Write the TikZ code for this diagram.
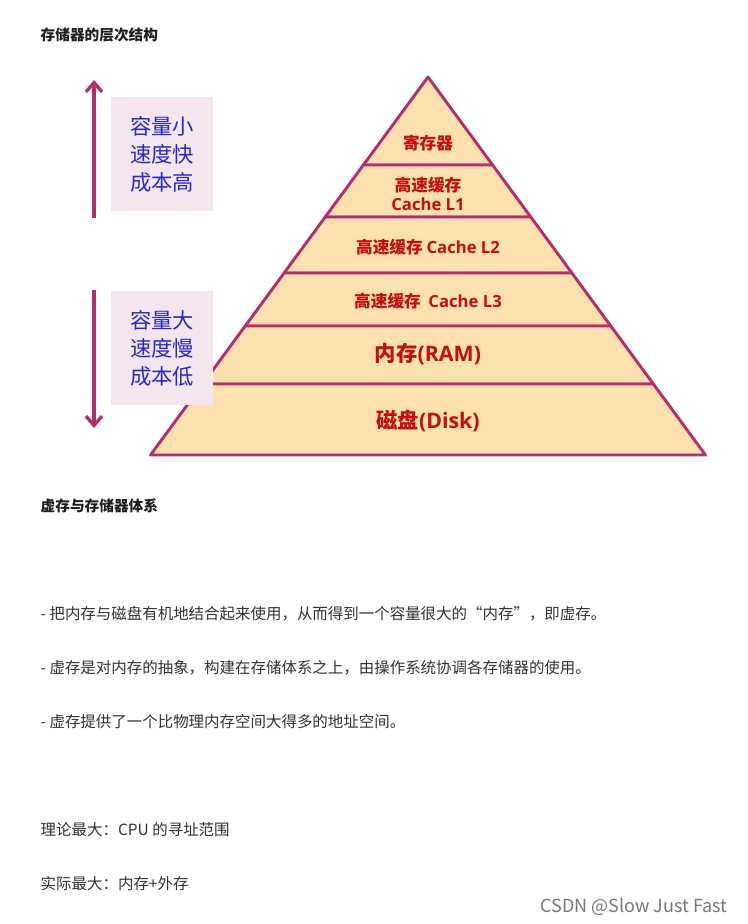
\documentclass[tikz,border=0pt]{standalone}
\usetikzlibrary{arrows.meta}
\usepackage{fontspec}
\setmainfont{Noto Sans CJK SC}
\newfontfamily\lat{Open Sans}
\begin{document}
\begin{tikzpicture}[x=0.75pt,y=-0.75pt,
  layer/.style={fill={rgb,255:red,253;green,224;blue,176},draw={rgb,255:red,176;green,48;blue,110},line width=2.2pt,line join=round},
  ptext/.style={text={rgb,255:red,192;green,16;blue,16},font=\fontsize{12.5}{14.5}\selectfont\bfseries,align=center},
  side/.style={fill={rgb,255:red,243;green,230;blue,238},minimum width=76pt,minimum height=85pt,text={rgb,255:red,40;green,40;blue,200},font=\fontsize{16}{21}\selectfont,align=center,inner sep=0pt},
  arr/.style={draw={rgb,255:red,176;green,48;blue,110},line width=2.5pt,-{Straight Barb[length=7pt,width=12pt]}},
  title/.style={anchor=west,font=\fontsize{11}{13}\selectfont\bfseries,text={rgb,255:red,30;green,30;blue,30}},
  body/.style={anchor=west,font=\fontsize{11.6}{13}\selectfont,text={rgb,255:red,50;green,50;blue,50}}]
\useasboundingbox (0,0) rectangle (747,924);
\fill[white] (0,0) rectangle (747,924);
\node[title] (t1) at (36,35) {存储器的层次结构};
\foreach \a/\b [count=\i] in {77/165,165/217,217/273,273/326,326/384,384/455}{
  \pgfmathsetmacro\la{428-(\a-77)/378*277.5}\pgfmathsetmacro\ra{428+(\a-77)/378*277.5}
  \pgfmathsetmacro\lb{428-(\b-77)/378*277.5}\pgfmathsetmacro\rb{428+(\b-77)/378*277.5}
  \draw[layer] (\la,\a) -- (\ra,\a) -- (\rb,\b) -- (\lb,\b) -- cycle;
}
\node[ptext] (p1) at (428,143) {寄存器};
\node[ptext] (p2) at (428,194) {高速缓存\\{\lat Cache L1}};
\node[ptext] (p3) at (428,247) {高速缓存 {\lat Cache L2}};
\node[ptext] (p4) at (428,301) {高速缓存 \ {\lat Cache L3}};
\node[ptext,font=\fontsize{16}{18}\selectfont\bfseries] (p5) at (428,354) {内存{\lat (RAM)}};
\node[ptext,font=\fontsize{16}{18}\selectfont\bfseries] (p6) at (428,421) {磁盘{\lat (Disk)}};
\node[side] (s1) at (162,154) {容量小\\速度快\\成本高};
\node[side] (s2) at (162,348) {容量大\\速度慢\\成本低};
\coordinate (u1) at (94,218); \coordinate (u2) at (94,80);
\coordinate (d1) at (94,290); \coordinate (d2) at (94,428);
\draw[arr] (u1) -- (u2);
\draw[arr] (d1) -- (d2);
\node[title] (t2) at (36,506) {虚存与存储器体系};
\node[body] (b1) at (36,614) {- 把内存与磁盘有机地结合起来使用，从而得到一个容量很大的“内存”，即虚存。};
\node[body] (b2) at (36,668) {- 虚存是对内存的抽象，构建在存储体系之上，由操作系统协调各存储器的使用。};
\node[body] (b3) at (36,722) {- 虚存提供了一个比物理内存空间大得多的地址空间。};
\node[body] (b4) at (36,830) {理论最大：CPU 的寻址范围};
\node[body] (b5) at (36,884) {实际最大：内存+外存};
\node[anchor=east,font=\fontsize{13.5}{15}\selectfont,text={rgb,255:red,120;green,120;blue,120}] (wm) at (732,907) {CSDN @Slow Just Fast};
\end{tikzpicture}
\end{document}
